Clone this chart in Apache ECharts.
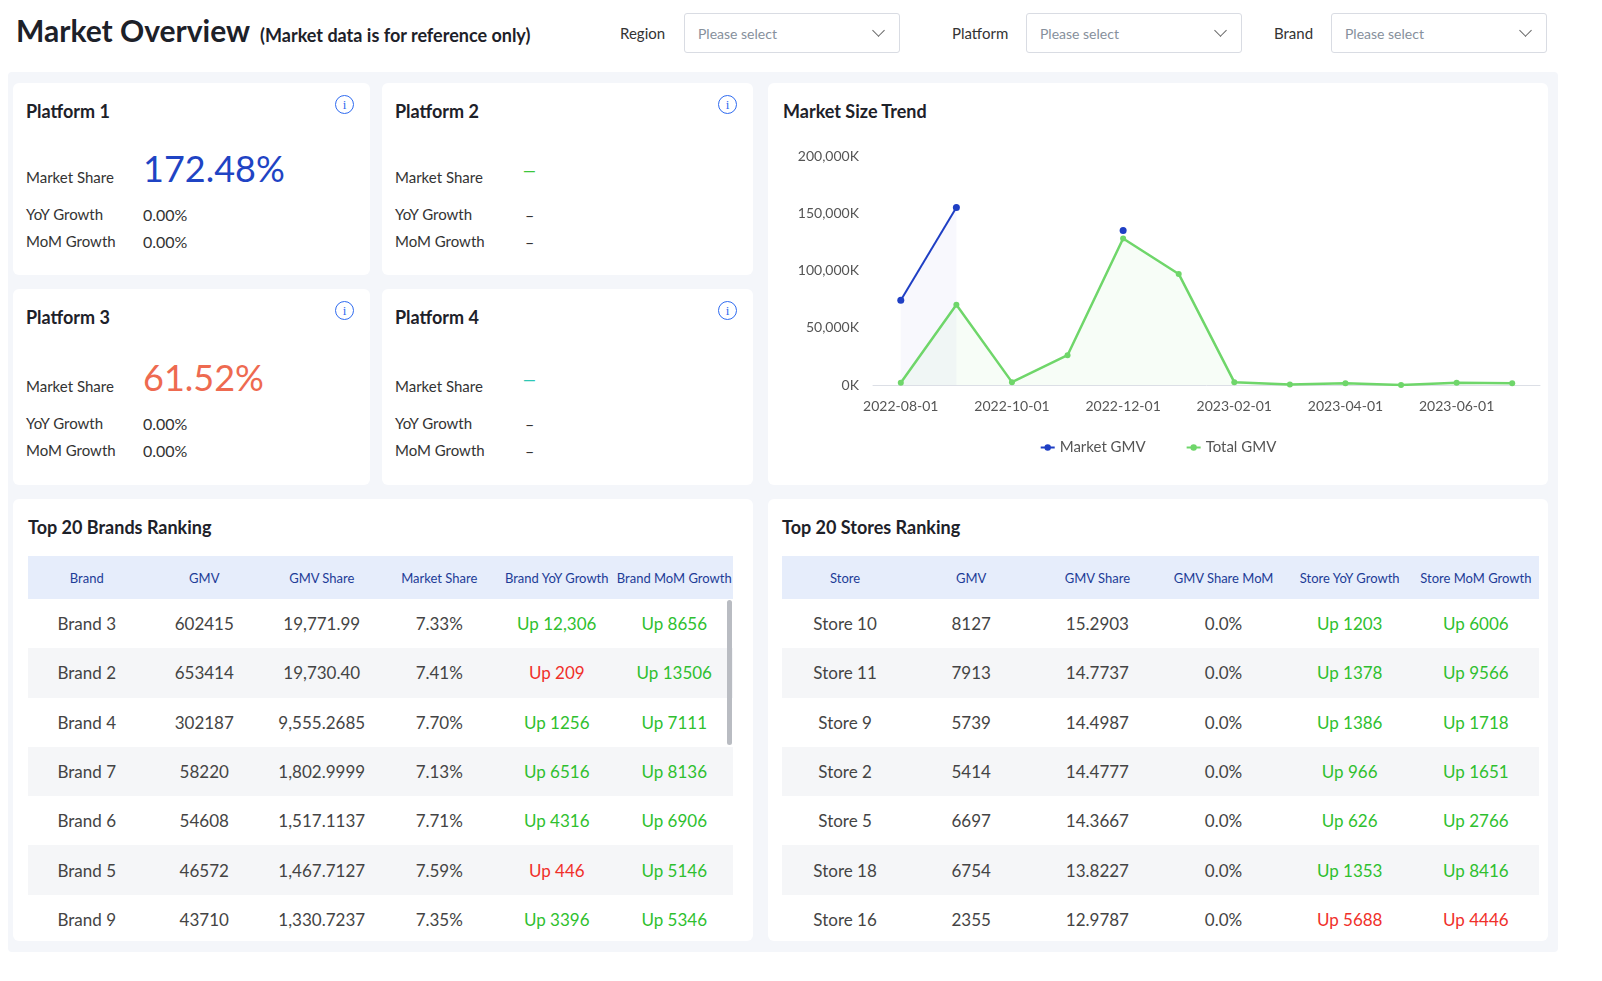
<!DOCTYPE html>
<html>
<head>
<meta charset="utf-8">
<script src="https://cdn.jsdelivr.net/npm/echarts@6/dist/echarts.min.js"></script>
<style>
body{margin:0;width:1602px;height:981px;background:#fff;font-family:Lato,"Noto Sans",sans-serif;color:#1d2129;position:relative;overflow:hidden}
.abs{position:absolute}
.title{left:16px;top:12px;font-size:30px;font-weight:bold}
.title span{font-size:18px;font-weight:bold;margin-left:10px}
.flab{font-size:15px;color:#333}
.sel{border:1px solid #d9dce3;border-radius:3px;height:40px;width:216px;box-sizing:border-box;font-size:14px;color:#86909c;padding:11px 13px}
.sel:after{content:"";position:absolute;right:16px;top:12px;width:8px;height:8px;border-right:1.5px solid #666;border-bottom:1.5px solid #666;transform:rotate(45deg)}
.bg{left:8px;top:72px;width:1550px;height:880px;background:#f4f6fa;border-radius:4px}
.card{background:#fff;border-radius:6px}
.ct{font-size:18px;font-weight:bold;position:absolute;left:13px;top:17px}
.info{position:absolute;right:16px;top:12px;width:17px;height:17px;border:1.5px solid #2f6bf0;border-radius:50%;color:#2f6bf0;font-size:13px;text-align:center;line-height:17px;font-family:serif}
.row{position:absolute;left:13px;font-size:15px;color:#333}
.val{position:absolute;left:130px;font-size:16px;color:#333}
table{border-collapse:collapse;position:absolute;font-size:17px;color:#444;table-layout:fixed}
th{background:#e6edfb;color:#1d3c97;font-weight:normal;font-size:13px;height:41px}
td{height:47.3px;text-align:center}
tr.alt td{background:#f5f6f8}
.g{color:#2fbf2f}.r{color:#f0302a}
</style>
</head>
<body>
<div class="abs title">Market Overview<span>(Market data is for reference only)</span></div>
<div class="abs flab" style="left:620px;top:24px">Region</div>
<div class="abs sel" style="left:684px;top:13px">Please select</div>
<div class="abs flab" style="left:952px;top:24px">Platform</div>
<div class="abs sel" style="left:1026px;top:13px">Please select</div>
<div class="abs flab" style="left:1274px;top:24px">Brand</div>
<div class="abs sel" style="left:1331px;top:13px">Please select</div>
<div class="abs bg"></div>
<div id="cards"></div>
<div class="abs card" style="left:768px;top:83px;width:780px;height:402px"><div class="ct" style="left:15px">Market Size Trend</div></div>
<div id="trend" class="abs" style="left:768px;top:130px;width:780px;height:350px"></div>
<div class="abs card" style="left:13px;top:499px;width:740px;height:442px"><div class="ct" style="left:15px">Top 20 Brands Ranking</div></div>
<div class="abs card" style="left:768px;top:499px;width:780px;height:442px"><div class="ct" style="left:14px">Top 20 Stores Ranking</div></div>
<div class="abs" style="left:727px;top:600px;width:5px;height:145px;background:#b9bcc2;border-radius:3px;z-index:2"></div>
<table id="brands" style="left:28px;top:556px;width:705px"></table>
<table id="stores" style="left:782px;top:556px;width:757px"></table>
<script>
var platforms = ['Platform 1', 'Platform 2', 'Platform 3', 'Platform 4'];
var marketShare = ['172.48%', '—', '61.52%', '—'];
var yoyGrowth = ['0.00%', '–', '0.00%', '–'];
var momGrowth = ['0.00%', '–', '0.00%', '–'];

var months = ['2022-08-01','2022-09-01','2022-10-01','2022-11-01','2022-12-01','2023-01-01','2023-02-01','2023-03-01','2023-04-01','2023-05-01','2023-06-01','2023-07-01'];
var marketGMV = [74000, 155000, null, null, 135000, null, null, null, null, null, null, null];
var totalGMV = [2000, 70000, 2500, 26000, 128000, 97000, 2500, 500, 1500, 0, 2000, 1500];

var brandHead = ['Brand','GMV','GMV Share','Market Share','Brand YoY Growth','Brand MoM Growth'];
var brandRows = [
  ['Brand 3','602415','19,771.99','7.33%','Up 12,306','Up 8656'],
  ['Brand 2','653414','19,730.40','7.41%','Up 209','Up 13506'],
  ['Brand 4','302187','9,555.2685','7.70%','Up 1256','Up 7111'],
  ['Brand 7','58220','1,802.9999','7.13%','Up 6516','Up 8136'],
  ['Brand 6','54608','1,517.1137','7.71%','Up 4316','Up 6906'],
  ['Brand 5','46572','1,467.7127','7.59%','Up 446','Up 5146'],
  ['Brand 9','43710','1,330.7237','7.35%','Up 3396','Up 5346']
];
var brandRed = [[1,4],[5,4]];
var storeHead = ['Store','GMV','GMV Share','GMV Share MoM','Store YoY Growth','Store MoM Growth'];
var storeRows = [
  ['Store 10','8127','15.2903','0.0%','Up 1203','Up 6006'],
  ['Store 11','7913','14.7737','0.0%','Up 1378','Up 9566'],
  ['Store 9','5739','14.4987','0.0%','Up 1386','Up 1718'],
  ['Store 2','5414','14.4777','0.0%','Up 966','Up 1651'],
  ['Store 5','6697','14.3667','0.0%','Up 626','Up 2766'],
  ['Store 18','6754','13.8227','0.0%','Up 1353','Up 8416'],
  ['Store 16','2355','12.9787','0.0%','Up 5688','Up 4446']
];
var storeRed = [[6,4],[6,5]];

// platform cards
var pos = [[13,83],[382,83],[13,289],[382,289]];
var shareStyle = [
  'font-size:36px;color:#1f44c4;top:-22px',
  'font-size:16px;color:#3cc63c;top:-8px;font-weight:bold',
  'font-size:36px;color:#ee6a50;top:-22px',
  'font-size:16px;color:#2ec7b5;top:-8px;font-weight:bold'
];
var html = '';
platforms.forEach(function (p, i) {
  var w = i % 2 ? 371 : 357, h = i < 2 ? 192 : 196;
  var top0 = i < 2 ? 0 : 3;
  html += '<div class="abs card" style="left:' + pos[i][0] + 'px;top:' + pos[i][1] + 'px;width:' + w + 'px;height:' + h + 'px">' +
    '<div class="ct">' + p + '</div><div class="info">i</div>' +
    '<div class="row" style="top:' + (85 + top0) + 'px">Market Share</div><div class="val" style="top:' + (85 + top0) + 'px;left:' + (i % 2 ? 141 : 130) + 'px"><span style="position:relative;' + shareStyle[i] + '">' + marketShare[i] + '</span></div>' +
    '<div class="row" style="top:' + (122 + top0) + 'px">YoY Growth</div><div class="val" style="top:' + (122 + top0) + 'px;left:' + (i % 2 ? 143 : 130) + 'px">' + yoyGrowth[i] + '</div>' +
    '<div class="row" style="top:' + (149 + top0) + 'px">MoM Growth</div><div class="val" style="top:' + (149 + top0) + 'px;left:' + (i % 2 ? 143 : 130) + 'px">' + momGrowth[i] + '</div></div>';
});
document.getElementById('cards').innerHTML = html;

function buildTable(id, head, rows, red) {
  var s = '<tr>' + head.map(function (h) { return '<th>' + h + '</th>'; }).join('') + '</tr>';
  rows.forEach(function (r, i) {
    s += '<tr class="' + (i % 2 ? 'alt' : '') + '">' + r.map(function (c, j) {
      var cls = '';
      if (j >= 4) {
        cls = red.some(function (x) { return x[0] === i && x[1] === j; }) ? 'r' : 'g';
      }
      return '<td class="' + cls + '">' + c + '</td>';
    }).join('') + '</tr>';
  });
  document.getElementById(id).innerHTML = s;
}
buildTable('brands', brandHead, brandRows, brandRed);
buildTable('stores', storeHead, storeRows, storeRed);

var chart = echarts.init(document.getElementById('trend'));
chart.setOption({
  animation: false,
  grid: {left: 105, right: 8, top: 26, bottom: 95},
  legend: {
    bottom: 20, itemGap: 40, itemWidth: 14, itemHeight: 8,
    textStyle: {fontSize: 15, color: '#555', fontFamily: 'Lato'},
    data: ['Market GMV', 'Total GMV']
  },
  xAxis: {
    type: 'category', data: months, boundaryGap: true,
    axisTick: {show: false},
    axisLine: {lineStyle: {color: '#dcdfe6'}},
    axisLabel: {interval: 1, color: '#555', fontSize: 14, margin: 14, fontFamily: 'Lato'}
  },
  yAxis: {
    type: 'value', min: 0, max: 200000, interval: 50000,
    splitLine: {show: false},
    axisLabel: {color: '#555', fontSize: 14, margin: 14, fontFamily: 'Lato',
      formatter: function (v) { return v.toLocaleString('en-US') + 'K'; }}
  },
  series: [{
    name: 'Market GMV', type: 'line', data: marketGMV,
    symbol: 'circle', symbolSize: 7,
    itemStyle: {color: '#1f3fc4'}, lineStyle: {width: 2},
    areaStyle: {color: 'rgba(120,130,210,0.08)'}
  }, {
    name: 'Total GMV', type: 'line', data: totalGMV,
    symbol: 'circle', symbolSize: 6,
    itemStyle: {color: '#6fd66a'}, lineStyle: {width: 2.5},
    areaStyle: {color: 'rgba(111,214,106,0.08)'}
  }]
});
</script>
</body>
</html>
